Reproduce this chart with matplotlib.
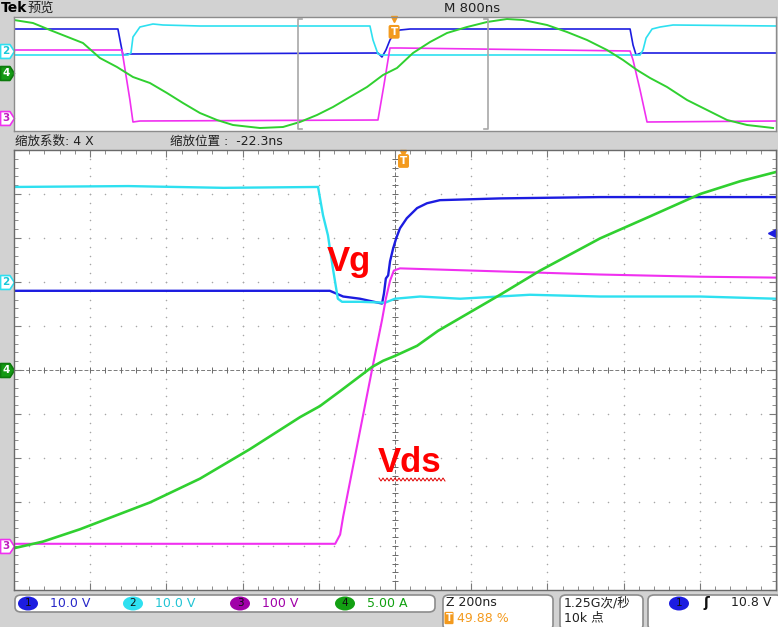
import numpy as np
import matplotlib.pyplot as plt
from matplotlib.path import Path
from matplotlib.patches import FancyBboxPatch, Ellipse
from matplotlib.transforms import blended_transform_factory
from matplotlib.ticker import MultipleLocator

plt.rcParams['font.family'] = ['DejaVu Sans', 'Noto Sans CJK SC']

# ---------------- settings shown on screen ----------------
preview_ns_div = 800
zoom_ns_div = 200
zoom_factor = 4
zoom_pos_ns = -22.3
trig_pos_pct = 49.88
trig_level_div = 3.12          # ch1 trigger level arrow (10.8 V)
ch_scales = ['10.0 V', '10.0 V', '100 V', '5.00 A']

# ---------------- zoom window traces (t in ns, value in divisions) ----------------
blue_t = [-1000, -171, -136, -92, -34, -29, -24, -18, -13, -5, 3, 13, 31, 58, 84, 118, 276, 538, 801, 1000]
blue_v = [1.80, 1.80, 1.67, 1.62, 1.51, 1.74, 2.08, 2.15, 2.47, 2.76, 2.99, 3.22, 3.45, 3.68, 3.79, 3.86, 3.90, 3.93, 3.93, 3.93]

cyan_t = [-1000, -700, -450, -202, -189, -176, -163, -150, -139, -92, -26, 0, 66, 171, 354, 538, 801, 1000]
cyan_v = [4.16, 4.18, 4.14, 4.16, 3.52, 3.06, 2.31, 1.62, 1.55, 1.55, 1.53, 1.62, 1.67, 1.62, 1.71, 1.67, 1.67, 1.62]

magenta_t = [-1000, -157, -144, -136, -60, -34, -24, -13, -3, 13, 276, 538, 801, 1000]
magenta_v = [-3.95, -3.95, -3.74, -3.33, 0.02, 1.14, 1.62, 2.03, 2.26, 2.31, 2.24, 2.17, 2.12, 2.10]

green_t = [-1000, -924, -827, -643, -512, -381, -249, -197, -144, -92, -60, -31, 0, 58, 113, 276, 381, 538, 669, 801, 906, 1000]
green_v = [-4.05, -3.90, -3.62, -3.01, -2.47, -1.80, -1.07, -0.82, -0.48, -0.14, 0.07, 0.21, 0.32, 0.55, 0.89, 1.71, 2.26, 2.99, 3.49, 4.00, 4.29, 4.50]

# ground markers (divisions)
main_markers = [('2', 2.0), ('4', 0.0), ('3', -4.0)]

# ---------------- preview traces (t in ns, height units 0..114) ----------------
pv_blue_t = [-4000, -2909, -2877, -2856, -2804, -179, -137, -95, -53, 0, 53, 158, 2468, 2499, 2531, 2583, 4000]
pv_blue_y = [102, 102, 86, 76, 77, 78, 74, 81, 91, 99, 101, 102, 102, 86, 76, 78, 78]

pv_cyan_t = [-4000, -2804, -2772, -2751, -2678, -2541, -2436, -2048, -263, -231, -179, -137, 2573, 2604, 2636, 2699, 2783, 2919, 4000]
pv_cyan_y = [76, 76, 78, 94, 104, 107, 106, 105, 105, 91, 77, 76, 76, 81, 93, 102, 104, 106, 105]

pv_magenta_t = [-4000, -2867, -2825, -2783, -2751, -2678, -179, -116, -53, 53, 2468, 2499, 2573, 2646, 4000]
pv_magenta_y = [81, 81, 56, 31, 9, 10, 11, 46, 83, 83, 80, 71, 41, 9, 10]

pv_green_t = [-4000, -3801, -3623, -3276, -3098, -2919, -2751, -2573, -2394, -2226, -2048, -1869, -1701, -1418,
              -1176, -998, -819, -651, -473, -294, -126, 21, 189, 368, 546, 756, 966, 1176, 1344, 1596, 1806,
              2016, 2226, 2394, 2541, 2678, 2856, 3066, 3276, 3486, 3696, 3969]
pv_green_y = [111, 108, 101, 88, 73, 64, 54, 48, 38, 28, 18, 11, 6, 3,
              4, 9, 16, 24, 34, 44, 56, 63, 78, 89, 98, 104, 109, 112, 111, 106, 99,
              91, 81, 71, 61, 53, 44, 31, 21, 11, 6, 3]

pv_markers = [('2', 80), ('4', 58), ('3', 13)]

C_BLUE = '#1c1ce0'
C_CYAN = '#2ee0f0'
C_MAG = '#f030f0'
C_GREEN = '#30d030'
C_ORANGE = '#f39a1e'

W, H = 778, 627
fig = plt.figure(figsize=(W / 100, H / 100), dpi=100, facecolor='#d2d2d2')


def fx(px):
    return px / W


def fy(py):
    return 1 - py / H


# ---------------- preview panel ----------------
axp = fig.add_axes([fx(14), fy(131), 762 / W, 114 / H])
axp.set_facecolor('white')
axp.set_xlim(-5 * preview_ns_div, 5 * preview_ns_div)
axp.set_ylim(0, 114)
axp.set_xticks([])
axp.set_yticks([])
for s in axp.spines.values():
    s.set_color('#8c8c8c')
    s.set_linewidth(1)

axp.plot(pv_blue_t, pv_blue_y, color=C_BLUE, lw=1.2)
axp.plot(pv_cyan_t, pv_cyan_y, color=C_CYAN, lw=1.2)
axp.plot(pv_magenta_t, pv_magenta_y, color=C_MAG, lw=1.2)
axp.plot(pv_green_t, pv_green_y, color=C_GREEN, lw=1.4)

# zoom window bracket
half = 5 * zoom_ns_div
zl, zr = zoom_pos_ns - half, zoom_pos_ns + half
tick = 45
axp.plot([zl + tick, zl, zl, zl + tick], [112, 112, 2, 2], color='#a8a8a8', lw=1.2)
axp.plot([zr - tick, zr, zr, zr - tick], [112, 112, 2, 2], color='#a8a8a8', lw=1.2)

# trigger marker in preview
pv_trig = -(50 - trig_pos_pct) / 100 * 10 * preview_ns_div
tp = blended_transform_factory(axp.transData, axp.transAxes)
axp.plot([pv_trig], [0.985], marker='v', color=C_ORANGE, ms=5, transform=tp, clip_on=False)
axp.text(pv_trig, 0.87, 'T', transform=tp, ha='center', va='center', color='white', fontsize=7.5,
         fontweight='bold', bbox=dict(boxstyle='round,pad=0.18', fc=C_ORANGE, ec='none'))

# ---------------- zoom panel ----------------
ax = fig.add_axes([fx(14), fy(590), 762 / W, 440 / H])
ax.set_facecolor('white')
ax.set_xlim(-5 * zoom_ns_div, 5 * zoom_ns_div)
ax.set_ylim(-5, 5)
ax.xaxis.set_major_locator(MultipleLocator(zoom_ns_div))
ax.xaxis.set_minor_locator(MultipleLocator(zoom_ns_div / 5))
ax.yaxis.set_major_locator(MultipleLocator(1))
ax.yaxis.set_minor_locator(MultipleLocator(0.2))
ax.tick_params(which='both', direction='in', top=True, right=True, labelbottom=False, labelleft=False,
               color='#7a7a7a')
ax.tick_params(which='major', length=5, width=0.8)
ax.tick_params(which='minor', length=3, width=0.6)
for s in ax.spines.values():
    s.set_color('#6a6a6a')
    s.set_linewidth(1)

# dotted graticule
minor_x = np.arange(-1000, 1001, zoom_ns_div / 5)
minor_y = np.arange(-5, 5.01, 0.2)
for xv in np.arange(-800, 801, zoom_ns_div):
    if xv != 0:
        ax.plot(np.full_like(minor_y, xv), minor_y, ls='none', marker='o', ms=1.1, color='#a6a6a6', mew=0)
for yv in range(-4, 5):
    if yv != 0:
        ax.plot(minor_x, np.full_like(minor_x, yv), ls='none', marker='o', ms=1.1, color='#a6a6a6', mew=0)
# centre crosshair with ticks
ax.axhline(0, color='#7a7a7a', lw=0.7, ls=(0, (4, 2)))
ax.axvline(0, color='#7a7a7a', lw=0.7, ls=(0, (4, 2)))
ax.plot(minor_x, np.zeros_like(minor_x), ls='none', marker='|', ms=4, mew=0.7, color='#6a6a6a')
ax.plot(np.zeros_like(minor_y), minor_y, ls='none', marker='_', ms=4, mew=0.7, color='#6a6a6a')

ax.plot(blue_t, blue_v, color=C_BLUE, lw=1.7)
ax.plot(cyan_t, cyan_v, color=C_CYAN, lw=1.7)
ax.plot(magenta_t, magenta_v, color=C_MAG, lw=1.5)
ax.plot(green_t, green_v, color=C_GREEN, lw=1.9)

# trigger level arrow
ax.plot([990], [trig_level_div], marker='<', color=C_BLUE, ms=6, clip_on=False)

# trigger marker in zoom window
tm = blended_transform_factory(ax.transData, ax.transAxes)
ax.plot([-zoom_pos_ns], [0.993], marker='v', color=C_ORANGE, ms=5, transform=tm, clip_on=False)
ax.text(-zoom_pos_ns, 0.975, 'T', transform=tm, ha='center', va='center', color='white', fontsize=7.5,
        fontweight='bold', bbox=dict(boxstyle='round,pad=0.18', fc=C_ORANGE, ec='none'))

# annotations
ax.text(-178, 2.26, 'Vg', color='#ff0000', fontsize=25, fontweight='bold', family='Liberation Sans',
        va='baseline', ha='left')
ax.text(-45, -2.31, 'Vds', color='#ff0000', fontsize=25, fontweight='bold', family='Liberation Sans',
        va='baseline', ha='left')
sq_x = np.linspace(fx(379), fx(445), 34)
sq_y = np.where(np.arange(34) % 2 == 0, fy(478), fy(481))
fig.add_artist(plt.Line2D(sq_x, sq_y, color='#e00000', lw=0.7))

# ---------------- channel ground markers ----------------
pent = Path([(-1, -1), (0.35, -1), (1, 0), (0.35, 1), (-1, 1), (-1, -1)],
            [Path.MOVETO, Path.LINETO, Path.LINETO, Path.LINETO, Path.LINETO, Path.CLOSEPOLY])
mstyle = {'2': ('white', C_CYAN, '#18c8d8'),
          '4': ('#149a14', '#0c7a0c', 'white'),
          '3': ('white', C_MAG, '#c020c0')}
for axx, marks in ((ax, main_markers), (axp, pv_markers)):
    tr = blended_transform_factory(fig.transFigure, axx.transData)
    for lab, yv in marks:
        fc, ec, tc = mstyle[lab]
        axx.plot([fx(7)], [yv], marker=pent, ms=10, mfc=fc, mec=ec, mew=1.2, transform=tr, clip_on=False)
        axx.text(fx(6), yv, lab, transform=tr, ha='center', va='center', fontsize=7.5, fontweight='bold',
                 color=tc, clip_on=False)

# ---------------- header texts ----------------
fig.text(fx(1), fy(8), 'Tek', fontsize=10, fontweight='bold', va='center')
fig.text(fx(27), fy(8), '预览', fontsize=9.5, va='center', color='#202020')
fig.text(fx(472), fy(8), 'M %dns' % preview_ns_div, fontsize=9.5, va='center', ha='center', color='#202020')
fig.text(fx(15), fy(141), '缩放系数: %d X' % zoom_factor, fontsize=9, va='center', color='#202020')
fig.text(fx(170), fy(141), '缩放位置 :  %.1fns' % zoom_pos_ns, fontsize=9, va='center', color='#202020')

# ---------------- bottom status bar ----------------
def box(x0, y0, x1, y1):
    p = FancyBboxPatch((fx(x0), fy(y1)), fx(x1) - fx(x0), fy(y0) - fy(y1),
                       boxstyle='round,pad=0,rounding_size=0.008', transform=fig.transFigure,
                       fc='white', ec='#8c8c8c', lw=1.2)
    fig.add_artist(p)


box(15, 595, 435, 612)
box(443, 595, 553, 630)
box(560, 595, 643, 630)
box(648, 595, 782, 630)

ch_cols = [C_BLUE, C_CYAN, '#a000a8', '#12a012']
txt_cols = ['#2828c8', '#22c4d4', '#a000a8', '#10a010']
ell_x = [28, 133, 240, 345]
for i in range(4):
    fig.add_artist(Ellipse((fx(ell_x[i]), fy(603.5)), 20 / W, 14 / H, transform=fig.transFigure,
                           fc=ch_cols[i], ec='none'))
    fig.text(fx(ell_x[i]), fy(603.5), str(i + 1), ha='center', va='center', fontsize=7.5, color='#101010')
    fig.text(fx(ell_x[i] + 22), fy(603.5), ch_scales[i], va='center', fontsize=9, color=txt_cols[i])

fig.text(fx(446), fy(603), 'Z %dns' % zoom_ns_div, va='center', fontsize=9, color='#202020')
fig.text(fx(449), fy(618), 'T', va='center', ha='center', fontsize=7, color='white', fontweight='bold',
         bbox=dict(boxstyle='round,pad=0.12', fc=C_ORANGE, ec='none'))
fig.text(fx(457), fy(618), '%.2f %%' % trig_pos_pct, va='center', fontsize=9, color=C_ORANGE)
fig.text(fx(564), fy(603), '1.25G次/秒', va='center', fontsize=9, color='#202020')
fig.text(fx(564), fy(618), '10k 点', va='center', fontsize=9, color='#202020')
fig.add_artist(Ellipse((fx(679), fy(603.5)), 20 / W, 14 / H, transform=fig.transFigure, fc=C_BLUE, ec='none'))
fig.text(fx(679), fy(603.5), '1', ha='center', va='center', fontsize=7.5, color='#101010')
fig.text(fx(706), fy(603), 'ʃ', ha='center', va='center', fontsize=10, color='#101010', fontweight='bold')
fig.text(fx(771), fy(603), '10.8 V', ha='right', va='center', fontsize=9, color='#202020')

fig.savefig('out.png', dpi=100, facecolor=fig.get_facecolor())
